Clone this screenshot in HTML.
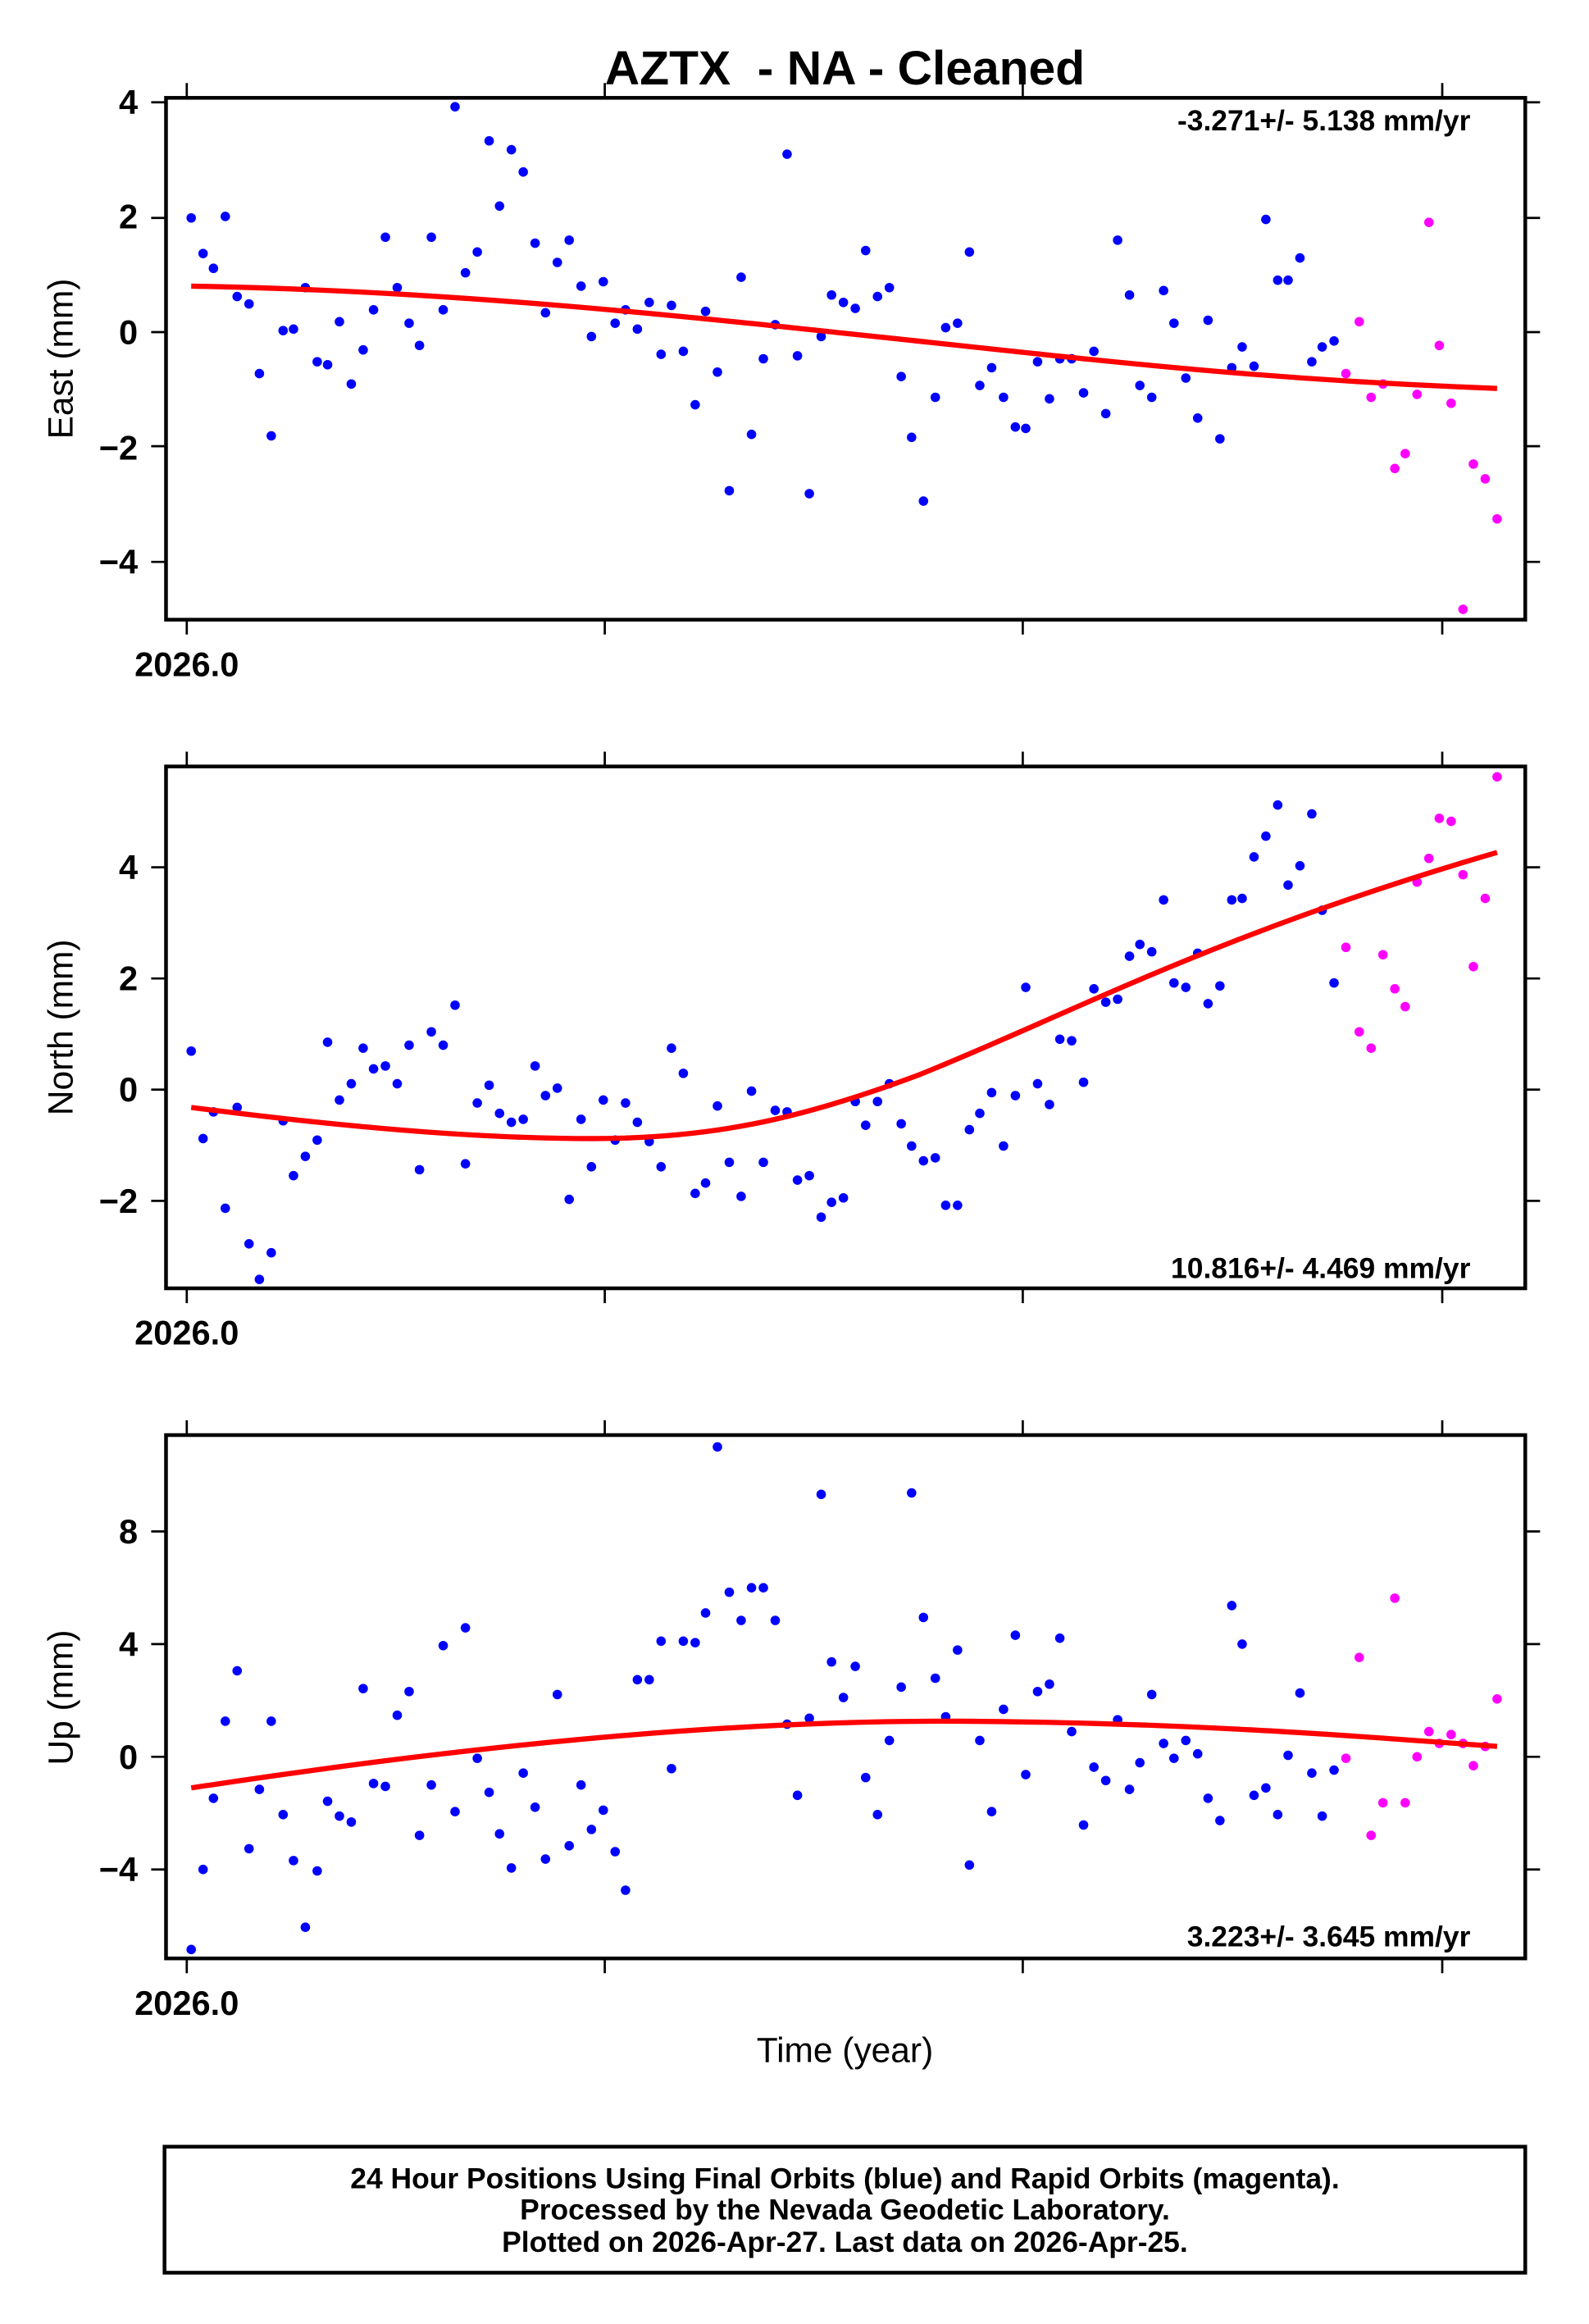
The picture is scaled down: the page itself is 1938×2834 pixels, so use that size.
<!DOCTYPE html>
<html><head><meta charset="utf-8"><style>
html,body{margin:0;padding:0;background:#fff}
svg{display:block}
text{font-family:"Liberation Sans",Arial,sans-serif}
</style></head><body>
<svg id="s" xmlns="http://www.w3.org/2000/svg" width="1938" height="2834" viewBox="0 0 1072 1567.6" preserveAspectRatio="none">
<rect width="1072" height="1568" fill="#fff"/>
<text x="570" y="57" font-size="32.5" font-weight="bold" text-anchor="middle">AZTX&#160; - NA - Cleaned</text>
<g id="g"></g>
<g stroke="#000" stroke-width="2.5" fill="none">
<rect x="112" y="66" width="917" height="352"/>
<rect x="112" y="517" width="917" height="352"/>
<rect x="112" y="968" width="917" height="353"/>
<rect x="111" y="1448" width="918" height="85"/>
</g>
<g font-size="23" font-weight="bold">
<text x="93" y="77" text-anchor="end">4</text>
<text x="93" y="154" text-anchor="end">2</text>
<text x="93" y="232" text-anchor="end">0</text>
<text x="93" y="310" text-anchor="end">−2</text>
<text x="93" y="387" text-anchor="end">−4</text>
<text x="93" y="593" text-anchor="end">4</text>
<text x="93" y="668" text-anchor="end">2</text>
<text x="93" y="743" text-anchor="end">0</text>
<text x="93" y="818" text-anchor="end">−2</text>
<text x="93" y="1041" text-anchor="end">8</text>
<text x="93" y="1117" text-anchor="end">4</text>
<text x="93" y="1193" text-anchor="end">0</text>
<text x="93" y="1269" text-anchor="end">−4</text>
<text x="126" y="456" text-anchor="middle">2026.0</text>
<text x="126" y="907" text-anchor="middle">2026.0</text>
<text x="126" y="1359" text-anchor="middle">2026.0</text>
</g>
<g font-size="19.6" font-weight="bold" text-anchor="end">
<text x="992" y="88">-3.271+/- 5.138 mm/yr</text>
<text x="992" y="862">10.816+/- 4.469 mm/yr</text>
<text x="992" y="1313">3.223+/- 3.645 mm/yr</text>
</g>
<g font-size="23.5">
<text transform="translate(49,242) rotate(-90)" text-anchor="middle">East (mm)</text>
<text transform="translate(49,693) rotate(-90)" text-anchor="middle">North (mm)</text>
<text transform="translate(49,1145) rotate(-90)" text-anchor="middle">Up (mm)</text>
<text x="570" y="1391" text-anchor="middle">Time (year)</text>
</g>
<g font-size="19.6" font-weight="bold" text-anchor="middle">
<text x="570" y="1476">24 Hour Positions Using Final Orbits (blue) and Rapid Orbits (magenta).</text>
<text x="570" y="1497">Processed by the Nevada Geodetic Laboratory.</text>
<text x="570" y="1519">Plotted on 2026-Apr-27. Last data on 2026-Apr-25.</text>
</g>
<g fill="none" stroke="#f00" stroke-width="3.5">
<path d="M129,193 C300,196 450,212 600,228 S850,256 1010,262"/>
<path d="M129,747 C230,760 320,768 400,768 C480,768 540,755 620,725 C720,685 820,630 1010,575"/>
<path d="M129,1206 C300,1180 480,1160 650,1161 C800,1162 900,1170 1010,1178"/>
</g>
</svg>
<script>
var ns="http://www.w3.org/2000/svg",g=document.getElementById("g");
function ln(a,b,c,d){var l=document.createElementNS(ns,"line");l.setAttribute("x1",a);l.setAttribute("y1",b);l.setAttribute("x2",c);l.setAttribute("y2",d);l.setAttribute("stroke","#000");l.setAttribute("stroke-width","1.5");g.appendChild(l);}
[[66,418,[69,147,224,301,379]],[517,869,[585,660,735,810]],[968,1321,[1033,1109,1185,1261]]].forEach(function(p){
[126,408,690,973].forEach(function(x){ln(x,p[0],x,p[0]-10);ln(x,p[1],x,p[1]+10);});
p[2].forEach(function(y){ln(112,y,102,y);ln(1029,y,1039,y);});});
function dots(s,c){var a=s.split(" ");for(var i=0;i<a.length;i++){var q=a[i].split(",");var e=document.createElementNS(ns,"circle");e.setAttribute("cx",q[0]);e.setAttribute("cy",q[1]);e.setAttribute("r","3.2");e.setAttribute("fill",c);g.appendChild(e);}}
dots("129,147 137,171 144,181 152,146 160,200 168,205 175,252 183,294 191,223 198,222 206,194 214,244 221,246 229,217 237,259 245,236 252,209 260,160 268,194 276,218 283,233 291,160 299,209 307,72 314,184 322,170 330,95 337,139 345,101 353,116 361,164 368,211 376,177 384,162 392,193 399,227 407,190 415,218 422,209 430,222 438,204 446,239 453,206 461,237 469,273 476,210 484,251 492,331 500,187 507,293 515,242 523,219 531,104 538,240 546,333 554,227 561,199 569,204 577,208 584,169 592,200 600,194 608,254 615,295 623,338 631,268 638,221 646,218 654,170 661,260 669,248 677,268 685,288 692,289 700,244 708,269 715,242 723,242 731,265 738,237 746,279 754,162 762,199 769,260 777,268 785,196 792,218 800,255 808,282 815,216 823,296 831,248 838,234 846,247 854,148 862,189 869,189 877,174 885,244 892,234 900,230","#00f");
dots("908,252 917,217 925,268 933,259 941,316 948,306 956,266 964,150 971,233 979,272 987,411 994,313 1002,323 1010,350","#f0f");
dots("129,709 137,768 144,750 152,815 160,747 168,839 175,863 183,845 191,756 198,793 206,780 214,769 221,703 229,742 237,731 245,707 252,721 260,719 268,731 276,705 283,789 291,696 299,705 307,678 314,785 322,744 330,732 337,751 345,757 353,755 361,719 368,739 376,734 384,809 392,755 399,787 407,742 415,769 422,744 430,757 438,770 446,787 453,707 461,724 469,805 476,798 484,746 492,784 500,807 507,736 515,784 523,749 531,750 538,796 546,793 554,821 561,811 569,808 577,743 584,759 592,743 600,731 608,758 615,773 623,783 631,781 638,813 646,813 654,762 661,751 669,737 677,773 685,739 692,666 700,731 708,745 715,701 723,702 731,730 738,667 746,676 754,674 762,645 769,637 777,642 785,607 792,663 800,666 808,643 815,677 823,665 831,607 838,606 846,578 854,564 862,543 869,597 877,584 885,549 892,614 900,663","#00f");
dots("908,639 917,696 925,707 933,644 941,667 948,679 956,595 964,579 971,552 979,554 987,590 994,652 1002,606 1010,524","#f0f");
dots("129,1315 137,1261 144,1213 152,1161 160,1127 168,1247 175,1207 183,1161 191,1224 198,1255 206,1300 214,1262 221,1215 229,1225 237,1229 245,1139 252,1203 260,1205 268,1157 276,1141 283,1238 291,1204 299,1110 307,1222 314,1098 322,1186 330,1209 337,1237 345,1260 353,1196 361,1219 368,1254 376,1143 384,1245 392,1204 399,1234 407,1221 415,1249 422,1275 430,1133 438,1133 446,1107 453,1193 461,1107 469,1108 476,1088 484,976 492,1074 500,1093 507,1071 515,1071 523,1093 531,1163 538,1211 546,1159 554,1008 561,1121 569,1145 577,1124 584,1199 592,1224 600,1174 608,1138 615,1007 623,1091 631,1132 638,1158 646,1113 654,1258 661,1174 669,1222 677,1153 685,1103 692,1197 700,1141 708,1136 715,1105 723,1168 731,1231 738,1192 746,1201 754,1160 762,1207 769,1189 777,1143 785,1176 792,1186 800,1174 808,1183 815,1213 823,1228 831,1083 838,1109 846,1211 854,1206 862,1224 869,1184 877,1142 885,1196 892,1225 900,1194","#00f");
dots("908,1186 917,1118 925,1238 933,1216 941,1078 948,1216 956,1185 964,1168 971,1176 979,1170 987,1176 994,1191 1002,1178 1010,1146","#f0f");
</script>
</body></html>
